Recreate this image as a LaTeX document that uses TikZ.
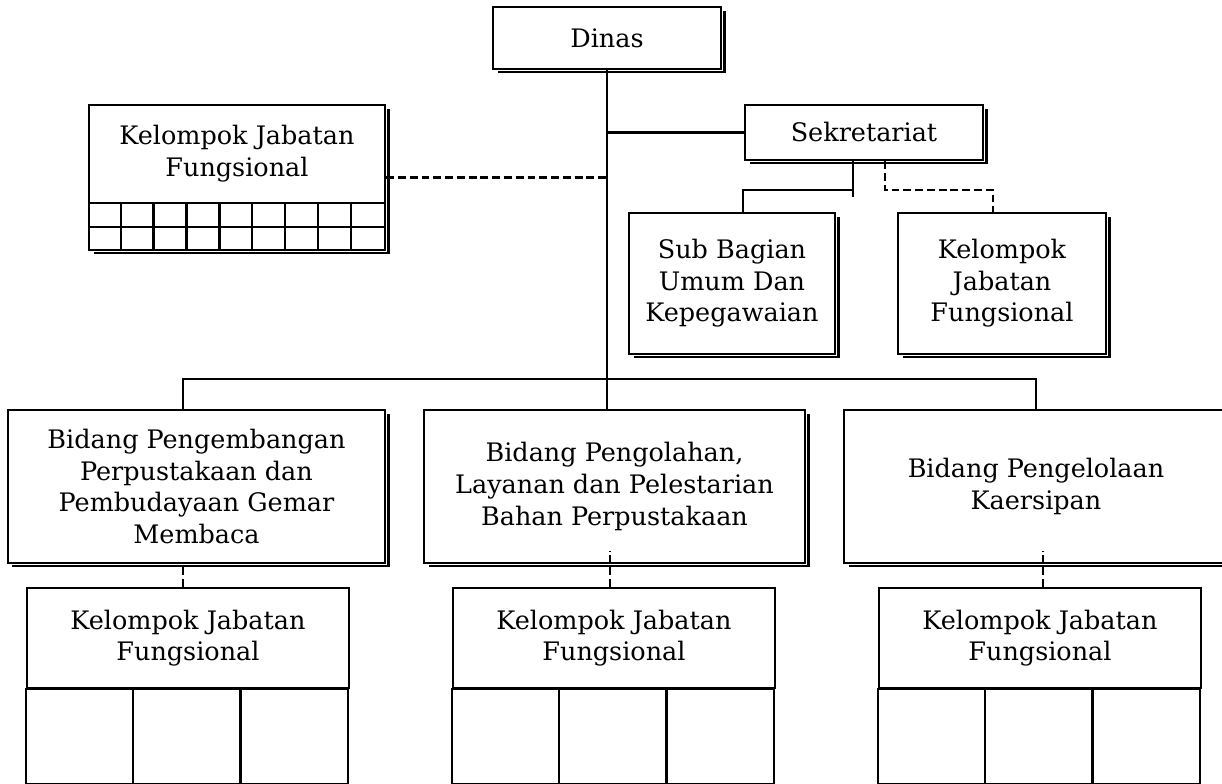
\documentclass[tikz,border=0pt]{standalone}
\usepackage{fontspec}
\setmainfont{DejaVu Serif}
\usetikzlibrary{shadows}
\tikzset{unit/.style={draw, fill=white, line width=1.4pt, align=center,
   font=\fontsize{14.5}{18}\selectfont,
   drop shadow={shadow xshift=0.09cm, shadow yshift=-0.09cm, fill=black, opacity=1},
   preaction={draw=white, line width=2.8pt}},
 plain/.style={draw, fill=white, line width=1.4pt, align=center,
   font=\fontsize{14.5}{18}\selectfont},
 blank/.style={draw=none, align=center, font=\fontsize{14.5}{18}\selectfont},
 dashline/.style={line width=1.3pt, dash pattern=on 4.5pt off 2.2pt},
 line/.style={line width=1.3pt},
 }

\begin{document}
\begin{tikzpicture}
        \useasboundingbox (0,0) rectangle (24.44,15.68);
        % top
        \node[unit, minimum width=4.56cm, minimum height=1.24cm] (dinas) at (12.14,14.92) {Dinas};
        \node[unit, minimum width=4.76cm, minimum height=1.1cm] (sek) at (17.28,13.03) {Sekretariat};
        \node[unit, minimum width=5.92cm, minimum height=2.9cm] (kjf) at (4.74,12.13) {};
        \node[blank] (kjft) at (4.74,12.61) {Kelompok Jabatan\\Fungsional};
        \draw[line] ([yshift=0.96cm]kjf.south west) -- ([yshift=0.96cm]kjf.south east);
        \draw[line] ([yshift=0.48cm]kjf.south west) -- ([yshift=0.48cm]kjf.south east);
        \foreach \i in {1,...,8}
            \draw[line] ([xshift=\i*0.658cm]kjf.south west) -- ++(0,0.96);
        \node[unit, minimum width=4.12cm, minimum height=2.82cm] (sub) at (14.64,10.01) {Sub Bagian\\Umum Dan\\Kepegawaian};
        \node[unit, minimum width=4.16cm, minimum height=2.82cm] (kjfs) at (20.04,10.01) {Kelompok\\Jabatan\\Fungsional};
        % bidang
        \node[unit, minimum width=7.54cm, minimum height=3.06cm] (bid1) at (3.93,5.95) {Bidang Pengembangan\\Perpustakaan dan\\Pembudayaan Gemar\\Membaca};
        \node[unit, minimum width=7.62cm, minimum height=3.06cm] (bid2) at (12.29,5.95) {Bidang Pengolahan,\\Layanan dan Pelestarian\\Bahan Perpustakaan};
        \node[unit, minimum width=7.68cm, minimum height=3.06cm] (bid3) at (20.72,5.95) {Bidang Pengelolaan\\Kaersipan};
        % kelompok bawah
        \foreach \n/\x in {kb1/3.76, kb2/12.28, kb3/20.80} {
            \node[plain, minimum width=6.44cm, minimum height=2cm] (\n) at (\x,2.92) {Kelompok Jabatan\\Fungsional};
            \draw[line] (\n.south west) rectangle ++(6.44,-1.9);
            \draw[line] ([xshift=2.147cm]\n.south west) -- ++(0,-1.9);
            \draw[line] ([xshift=4.293cm]\n.south west) -- ++(0,-1.9);
        }
        % garis
        \coordinate (bus) at (12.14,8.10);
        \coordinate (sj) at (17.06,11.88);
        \coordinate (dj) at (17.70,11.88);
        \draw[line] (dinas.south) -- (dinas.south |- bid2.north);
        \draw[line] (dinas.south |- sek.west) -- (sek.west);
        \draw[dashline] (kjf.east) -- (kjf.east -| dinas.south);
        \draw[line] (sek.south -| sj) -- ++(0,-0.72);
        \draw[line] (sj) -| ([xshift=0.22cm]sub.north);
        \draw[dashline] (sek.south -| dj) -- (dj) -| ([xshift=-0.18cm]kjfs.north);
        \draw[line] ([xshift=-0.27cm]bid1.north) |- (bid3.north |- bus) -- (bid3.north);
        \draw[dashline] ([xshift=-0.1cm]kb1.north) -- ([xshift=-0.1cm]kb1.north |- bid1.south);
        \draw[dashline] ([xshift=-0.08cm]kb2.north) -- ([xshift=-0.08cm,yshift=0.26cm]kb2.north |- bid2.south);
        \draw[dashline] ([xshift=0.06cm]kb3.north) -- ([xshift=0.06cm,yshift=0.26cm]kb3.north |- bid3.south);
    \end{tikzpicture}
\end{document}
